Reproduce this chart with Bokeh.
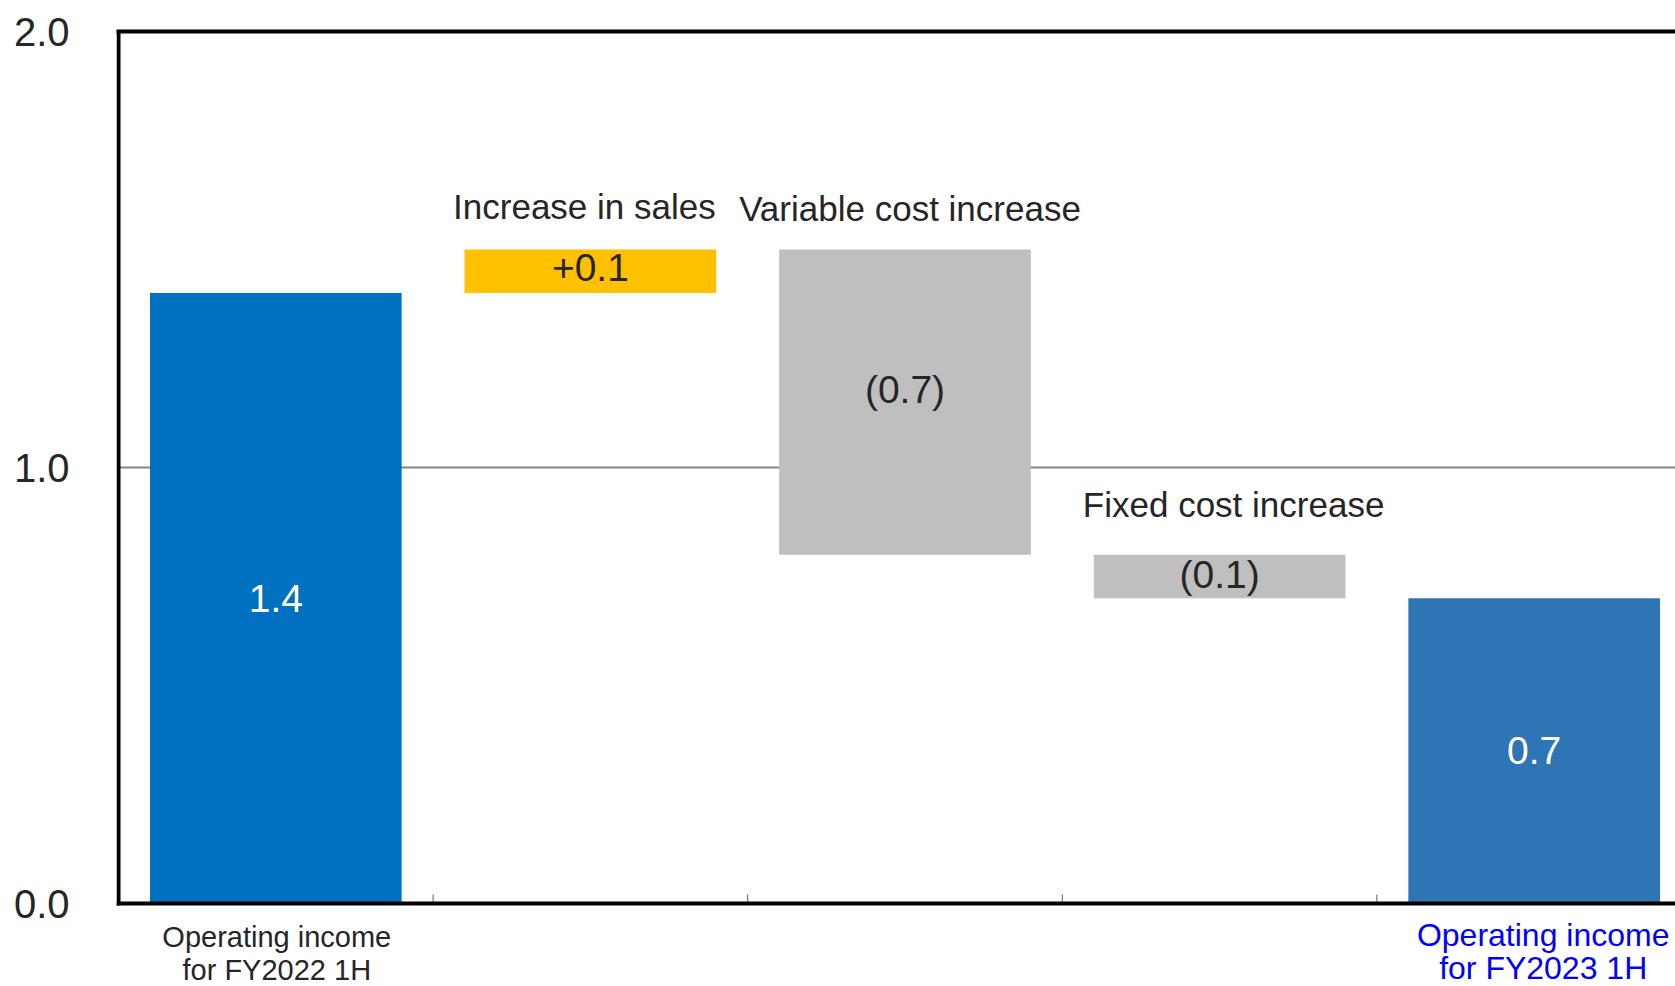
from bokeh.plotting import figure
from bokeh.models import ColumnDataSource, FixedTicker, LinearAxis, Label, Range1d, NumeralTickFormatter
from bokeh.core.properties import value
from bokeh.embed import file_html
from bokeh.resources import INLINE

# ---------------- data ----------------
categories = ["Operating income\nfor FY2022 1H", "Increase in sales", "Variable cost increase",
              "Fixed cost increase", "Operating income\nfor FY2023 1H"]
start_value = 1.4
changes = [0.1, -0.7, -0.1]
end_value = 0.7
value_labels = ["1.4", "+0.1", "(0.7)", "(0.1)", "0.7"]
y_ticks = [0.0, 1.0, 2.0]

# ---------------- styles ----------------
FONT = "Liberation Sans"
DARK = "#262626"
bar_colors = ["#0070C0", "#FFC000", "#BFBFBF", "#BFBFBF", "#2E75B6"]
value_label_colors = ["white", DARK, DARK, DARK, "white"]
value_label_lift_px = [0, 4, 13, 2, 0]

W, H = 1675, 986
FRAME_LEFT, FRAME_TOP = 116, 31
PX_PER_UNIT = 436.0          # vertical pixels per 1.0 of value
CAT_PX = 314.6               # horizontal pixels per category
AXIS_GAP_PX = 2              # frame edge to value-axis line centre
BELOW_PX = H - FRAME_TOP - 2 * PX_PER_UNIT   # room under the zero line for labels
Y0, Y1 = 0.0, 2.0


def py(n):
    return n / PX_PER_UNIT


def pxx(n):
    return n / CAT_PX


X_START = -pxx(AXIS_GAP_PX)
X_END = X_START + (W - FRAME_LEFT) / CAT_PX
Y_START = Y0 - py(BELOW_PX)

# waterfall geometry from the data
bottoms, tops = [0.0], [start_value]
running = start_value
for c in changes:
    new = running + c
    bottoms.append(min(running, new))
    tops.append(max(running, new))
    running = new
bottoms.append(0.0)
tops.append(end_value)
n = len(categories)
xs = [i + 0.5 for i in range(n)]
boundaries = list(range(1, n))
label_ys = [(b + t) / 2 + py(d) for b, t, d in zip(bottoms, tops, value_label_lift_px)]

src = ColumnDataSource(dict(x=xs, bottom=bottoms, top=tops, color=bar_colors,
                            ly=label_ys, label=value_labels, lcolor=value_label_colors))

p = figure(width=W, height=H, output_backend="svg", toolbar_location=None,
           x_range=Range1d(X_START, X_END), y_range=Range1d(Y_START, Y1),
           min_border_left=FRAME_LEFT, min_border_top=FRAME_TOP,
           min_border_bottom=0, min_border_right=0,
           x_axis_location=None, y_axis_location=None)
p.outline_line_color = None
p.background_fill_color = "white"
p.border_fill_color = "white"

# value axis (labels only; its line is drawn below as a segment from 0 to 2)
yax = LinearAxis(ticker=FixedTicker(ticks=y_ticks), formatter=NumeralTickFormatter(format="0.0"))
yax.axis_line_color = None
yax.major_tick_line_color = None
yax.minor_tick_line_color = None
yax.major_label_text_font = FONT
yax.major_label_text_font_size = "40px"
yax.major_label_text_color = DARK
yax.major_label_standoff = 41
p.add_layout(yax, "left")

# top border
tax = LinearAxis(ticker=FixedTicker(ticks=[]))
tax.axis_line_color = "black"
tax.axis_line_width = 4
tax.major_tick_line_color = None
tax.minor_tick_line_color = None
tax.major_label_text_font_size = "1px"
p.add_layout(tax, "above")

p.xgrid.grid_line_color = None
p.ygrid.ticker = FixedTicker(ticks=[1.0])
p.ygrid.grid_line_color = "#868686"
p.ygrid.grid_line_width = 2

# bars
p.vbar(x="x", bottom="bottom", top="top", width=0.8, fill_color="color",
       line_color=None, source=src)

# small inward ticks at category boundaries
p.segment(x0=boundaries, y0=[Y0] * len(boundaries), x1=boundaries,
          y1=[Y0 + py(9)] * len(boundaries), line_color="#595959", line_width=1)

# axis lines: value axis (left) and category axis (bottom)
p.segment(x0=[0, 0], y0=[Y0, Y0], x1=[0, X_END], y1=[Y1, Y0],
          line_color="black", line_width=4, line_cap="square")

# value labels inside bars
p.text(x="x", y="ly", text="label", text_color="lcolor", source=src,
       text_font=value(FONT), text_font_size="39px",
       text_align="center", text_baseline="middle")

# titles above the change bars (x offset px, centre px above bar top)
title_offsets = {1: (-6, 43), 2: (5, 41), 3: (14, 50)}
for i, (dx, dy) in title_offsets.items():
    p.add_layout(Label(x=xs[i], y=tops[i] + py(dy), x_offset=dx, text=categories[i],
                       text_font=FONT, text_font_size="35px", text_color=DARK,
                       text_align="center", text_baseline="middle"))

# category labels under the total bars
# (colour, font size, x offset px, line centres in px below the zero line)
cat_styles = {0: (DARK, "29px", 1, [33, 66]),
              4: ("#0000FF", "32px", 9, [31, 64])}
for i, (col, fs, dx, centres) in cat_styles.items():
    lines = categories[i].split("\n")
    p.text(x=[xs[i]] * len(lines), y=[Y0 - py(c) for c in centres], text=lines, x_offset=dx,
           text_font=value(FONT), text_font_size=fs, text_color=col,
           text_align="center", text_baseline="middle")

open("out.html", "w").write(file_html(p, INLINE))
